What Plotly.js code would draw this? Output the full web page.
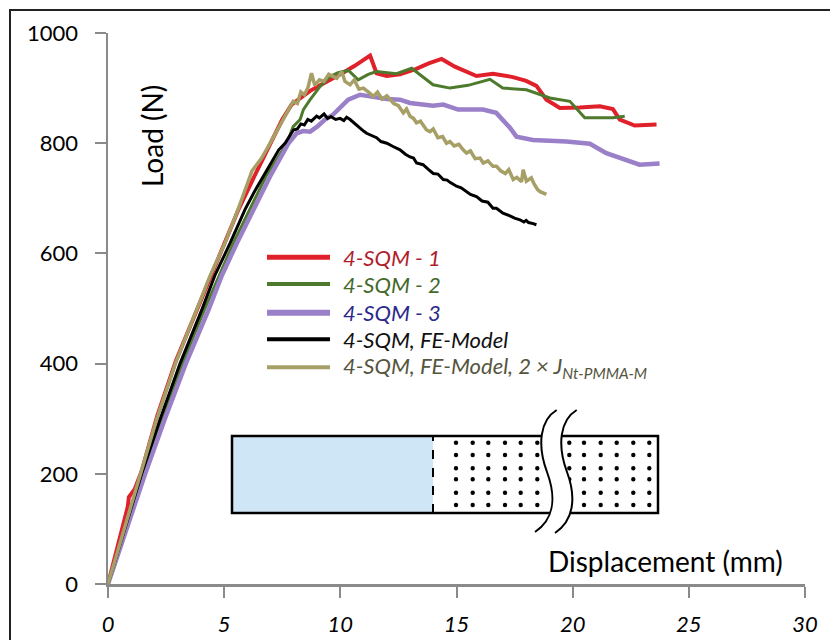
<!DOCTYPE html>
<html><head><meta charset="utf-8">
<script src="https://cdn.plot.ly/plotly-3.0.1.min.js"></script>
<style>html,body{margin:0;padding:0;background:#fff}#chart{width:830px;height:640px}</style>
</head><body><div id="chart"></div>
<script>
// ---------- data ----------
const xTickVals = [0, 5, 10, 15, 20, 25, 30];
const yTickVals = [0, 200, 400, 600, 800, 1000];
const seriesNames = ['4-SQM - 1', '4-SQM - 2', '4-SQM - 3', '4-SQM, FE-Model', '4-SQM, FE-Model, 2 × J<sub>Nt-PMMA-M</sub>'];

const sqm1X = [0,0.45,0.85,0.9,1.15,1.45,2.12,2.92,3.85,4.42,5.05,5.62,6.3,6.9,7.5,7.9,8.27,8.7,9.13,9.6,10.12,10.6,11.28,11.56,12.0,12.57,13.27,13.8,14.36,14.93,15.5,15.86,16.57,17.43,18.0,18.44,18.87,19.45,20.3,21.17,21.73,22.03,22.67,23.61];
const sqm1Y = [0,72,140,158,172,205,305,405,500,560,620,680,740,790,843,870,882,895,905,915,928,940,959,927,922,925,935,945,953,939,928,922,926,920,913,904,879,864,865,867,862,843,832,834];

const sqm2X = [0,0.72,1.5,2.35,3.2,4.15,5.4,6.8,7.7,7.97,8.27,8.41,8.7,9.13,9.56,9.9,10.35,10.77,11.2,11.56,12.42,13.07,13.5,13.99,14.72,15.5,16.44,16.99,18.01,19.02,19.88,20.52,21.73,22.24];
const sqm2Y = [0,95,200,300,400,498,619,740,800,830,843,861,879,903,921,928,932,915,925,930,926,936,922,906,900,905,916,900,897,882,876,846,846,849];

const sqm3X = [0,0.75,1.6,2.45,3.35,4.33,4.9,5.55,6.25,6.98,7.4,7.77,8.12,8.4,8.7,9.0,9.34,9.69,10.34,10.85,11.28,12.0,12.57,13.0,13.99,14.43,15.07,16.14,16.71,17.3,17.58,18.29,19.73,20.74,21.45,22.88,23.74];
const sqm3Y = [0,95,200,300,400,498,560,619,680,740,772,800,818,822,821,830,843,852,879,888,885,880,879,873,868,870,861,861,855,828,812,806,803,799,782,761,763];

const feX = [0,0.7,1.45,2.25,3.1,4.04,4.6,5.26,5.9,6.3,6.69,7.1,7.35,7.62,7.8,7.98,8.15,8.3,8.45,8.6,8.75,8.98,9.1,9.3,9.45,9.6,9.8,9.99,10.15,10.27,10.42,10.6,10.8,11.0,11.13,11.3,11.56,11.75,12.0,12.27,12.45,12.57,12.8,13.0,13.15,13.28,13.56,13.7,13.8,14.0,14.2,14.43,14.6,14.72,15.0,15.2,15.43,15.6,15.86,16.1,16.35,16.57,16.72,16.9,17.0,17.3,17.5,17.73,17.9,18.0,18.1,18.3,18.44];
const feY = [0,95,200,300,400,498,560,619,680,712,740,772,788,800,812,824,826,835,833,843,840,849,846,853,845,848,843,845,841,847,843,836,828,822,818,815,810,803,800,794,791,788,780,775,773,764,761,755,752,745,744,734,733,729,722,719,713,707,703,695,693,682,682,676,673,668,664,661,657,660,656,654,652];

const fe2X = [0,0.7,1.4,2.1,2.9,3.83,4.4,5.04,5.6,6.2,6.6,6.98,7.3,7.62,7.8,7.97,8.15,8.3,8.45,8.6,8.76,8.9,9.1,9.3,9.5,9.69,9.85,10.06,10.2,10.42,10.6,10.8,10.99,11.2,11.42,11.6,11.8,12.0,12.14,12.3,12.5,12.71,12.85,13.0,13.15,13.28,13.45,13.71,13.86,14.0,14.2,14.4,14.57,14.72,14.9,15.1,15.29,15.43,15.6,15.8,16.01,16.15,16.35,16.57,16.72,16.9,17.1,17.25,17.44,17.6,17.8,17.87,18.01,18.22,18.35,18.49,18.6,18.87];
const fe2Y = [0,100,200,300,400,498,560,619,680,750,772,800,825,849,862,876,872,893,888,900,927,905,915,912,925,921,918,930,912,906,915,898,900,893,885,893,880,886,880,872,868,855,862,849,845,837,840,824,821,826,810,812,800,803,795,798,788,782,786,772,773,764,768,758,758,750,745,752,734,738,730,752,731,737,725,716,712,707];

// ---------- styles ----------
const lineColors = ['#e0202a', '#4d7a2c', '#9a80c8', '#000000', '#a69f66'];
const lineWidths = [4, 3, 4.5, 3, 3.5];
const textColors = ['#b01e2c', '#44692a', '#2c2a8a', '#111111', '#55553e'];
const FONT = 'Lato, "Open Sans", sans-serif';

// plot-area geometry (pixels) used only for decorations
const PL = 108, PT = 33, PW = 697, PH = 551;
const px2x = p => (p - PL) / PW * 30;
const py2y = p => (PT + PH - p) / PH * 1000;

const xs = [sqm1X, sqm2X, sqm3X, feX, fe2X];
const ys = [sqm1Y, sqm2Y, sqm3Y, feY, fe2Y];
const traces = xs.map((x, i) => ({
  type: 'scatter', mode: 'lines', x: x, y: ys[i], name: seriesNames[i],
  line: {color: lineColors[i], width: lineWidths[i]}, showlegend: false, hoverinfo: 'skip'
}));

const shapes = [];
const annotations = [];

// outer frame
shapes.push({type: 'rect', xref: 'paper', yref: 'paper',
  x0: (10 - PL) / PW, x1: (842 - PL) / PW, y0: (PT + PH - 652) / PH, y1: (PT + PH - 10) / PH,
  line: {color: '#222', width: 2}, fillcolor: 'rgba(0,0,0,0)'});

// manual legend
const legY = [257.3, 284, 312.7, 339.3, 367.3];
const legW = [5, 4, 6, 4, 4];
seriesNames.forEach((n, i) => {
  shapes.push({type: 'line', xref: 'x', yref: 'y', x0: px2x(267), x1: px2x(330), y0: py2y(legY[i]), y1: py2y(legY[i]),
    line: {color: lineColors[i], width: legW[i]}});
  annotations.push({xref: 'x', yref: 'y', x: px2x(341), y: py2y(legY[i]), xanchor: 'left', yanchor: 'middle',
    text: '<i>' + n + '</i>', showarrow: false, font: {family: FONT, size: 22, color: textColors[i]}});
});

// specimen diagram
shapes.push({type: 'rect', xref: 'x', yref: 'y', x0: px2x(232), x1: px2x(658), y0: py2y(513), y1: py2y(436),
  fillcolor: '#ffffff', line: {width: 0}});
shapes.push({type: 'rect', xref: 'x', yref: 'y', x0: px2x(232), x1: px2x(433), y0: py2y(513), y1: py2y(436),
  fillcolor: '#cfe6f6', line: {width: 0}});
shapes.push({type: 'line', xref: 'x', yref: 'y', x0: px2x(433), x1: px2x(433), y0: py2y(513), y1: py2y(436),
  line: {color: '#000', width: 2, dash: 'dash'}});
const dotCols = [456, 472.7, 488.3, 505, 520.7, 537.3, 569.3, 584, 600.7, 616.7, 633.3, 649.3];
const dotRows = [442.7, 455, 468.3, 479.3, 492.7, 505];
dotCols.forEach(cx => dotRows.forEach(cy => {
  shapes.push({type: 'circle', xref: 'x', yref: 'y', x0: px2x(cx - 2.2), x1: px2x(cx + 2.2), y0: py2y(cy + 2.2), y1: py2y(cy - 2.2),
    fillcolor: '#000', line: {width: 0}});
}));
shapes.push({type: 'rect', xref: 'x', yref: 'y', x0: px2x(232), x1: px2x(658), y0: py2y(513), y1: py2y(436),
  fillcolor: 'rgba(0,0,0,0)', line: {color: '#000', width: 2.5}});
const P = (a, b) => px2x(a).toFixed(4) + ',' + py2y(b).toFixed(3);
const c1 = [[556.7,410],[540,420],[537,445],[547,472],[557,499],[553,520],[535,532]];
const c2 = c1.map(p => [p[0] + 20, p[1] + (p[1] > 500 ? 1 : 0)]);
const seg = c => 'M' + P(...c[0]) + ' C' + P(...c[1]) + ' ' + P(...c[2]) + ' ' + P(...c[3]) + ' C' + P(...c[4]) + ' ' + P(...c[5]) + ' ' + P(...c[6]);
const r2 = c2.slice().reverse();
const gap = seg(c1) + ' L' + P(...r2[0]) + ' C' + P(...r2[1]) + ' ' + P(...r2[2]) + ' ' + P(...r2[3]) + ' C' + P(...r2[4]) + ' ' + P(...r2[5]) + ' ' + P(...r2[6]) + ' Z';
shapes.push({type: 'path', xref: 'x', yref: 'y', path: gap, fillcolor: '#ffffff', line: {width: 0}});
shapes.push({type: 'path', xref: 'x', yref: 'y', path: seg(c1), line: {color: '#000', width: 2}});
shapes.push({type: 'path', xref: 'x', yref: 'y', path: seg(c2), line: {color: '#000', width: 2}});

// axis titles placed inside plot as in reference
annotations.push({xref: 'x', yref: 'y', x: px2x(152), y: py2y(136), text: 'Load (N)', textangle: -90, showarrow: false,
  xanchor: 'center', yanchor: 'middle', font: {family: FONT, size: 28, color: '#000'}});
annotations.push({xref: 'x', yref: 'y', x: px2x(785), y: py2y(561), text: 'Displacement (mm)', showarrow: false,
  xanchor: 'right', yanchor: 'middle', font: {family: FONT, size: 28, color: '#000'}});

const axisGrey = '#8a8a8a';
const layout = {
  width: 830, height: 640,
  margin: {l: PL, r: 830 - PL - PW, t: PT, b: 640 - PT - PH},
  paper_bgcolor: '#fff', plot_bgcolor: '#fff',
  showlegend: false,
  xaxis: {range: [0, 30], tickvals: xTickVals, ticktext: xTickVals.map(String), ticks: 'outside', ticklen: 11, tickwidth: 2,
    tickcolor: axisGrey, showline: true, linecolor: axisGrey, linewidth: 2.5, showgrid: false, zeroline: false,
    tickfont: {family: FONT, size: 22, color: '#000', style: 'italic'}, ticklabelstandoff: 8, fixedrange: true},
  yaxis: {range: [0, 1000], tickvals: yTickVals, ticktext: yTickVals.map(String), ticks: 'outside', ticklen: 11, tickwidth: 2,
    tickcolor: axisGrey, showline: true, linecolor: axisGrey, linewidth: 2.5, showgrid: false, zeroline: false,
    tickfont: {family: FONT, size: 22, color: '#000'}, ticklabelstandoff: 12, fixedrange: true},
  xaxis2: {overlaying: 'x', anchor: 'y', side: 'top', range: [0, 30], tickvals: xTickVals, ticks: 'inside', ticklen: 11, tickwidth: 2,
    tickcolor: axisGrey, showline: true, linecolor: axisGrey, linewidth: 2.5, showgrid: false, zeroline: false, showticklabels: false},
  yaxis2: {overlaying: 'y', anchor: 'x', side: 'right', range: [0, 1000], tickvals: yTickVals, ticks: 'inside', ticklen: 11, tickwidth: 2,
    tickcolor: axisGrey, showline: true, linecolor: axisGrey, linewidth: 2.5, showgrid: false, zeroline: false, showticklabels: false},
  shapes: shapes,
  annotations: annotations
};

Plotly.newPlot('chart', traces, layout, {staticPlot: true, displayModeBar: false});
</script>
</body></html>
